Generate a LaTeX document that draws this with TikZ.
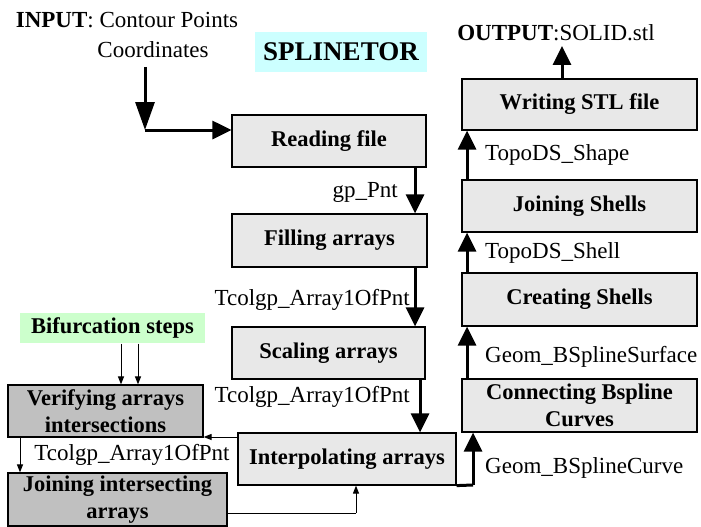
\documentclass[tikz,border=0pt]{standalone}
\usepackage{fontspec}
\setmainfont{Liberation Serif}
\usetikzlibrary{arrows.meta}
\definecolor{boxgray}{HTML}{E8E8E8}
\definecolor{darkgray}{HTML}{C0C0C0}
\definecolor{cyanbg}{HTML}{CCFFFF}
\definecolor{greenbg}{HTML}{CCFFCC}
\tikzset{
  procbox/.style={draw=black, line width=1.2pt, fill=boxgray, inner sep=0pt, align=center,
    font=\fontsize{22.5}{27}\selectfont\bfseries},
  darkbox/.style={procbox, fill=darkgray},
  lbl/.style={inner sep=0pt, font=\fontsize{23}{27}\selectfont},
  bigarrow/.style={line width=3pt, -{Triangle[width=18pt 0,length=19pt 0]}},
  longarrow/.style={line width=3pt, -{Triangle[width=19pt 0,length=28pt 0]}},
  thinarrow/.style={line width=1pt, -{Triangle[width=6pt 0,length=8pt 0]}},
  thinline/.style={line width=1pt},
  bigline/.style={line width=3pt},
}
\begin{document}
\begin{tikzpicture}[x=1pt,y=-1pt]
\useasboundingbox (0,0) rectangle (701,527);
% text nodes
\node[lbl] (in1) at (127,20) {\textbf{INPUT}: Contour Points};
\node[lbl] (in2) at (153,50) {Coordinates};
\node[lbl, fill=cyanbg, minimum width=172pt, minimum height=40pt, font=\fontsize{27}{30}\selectfont\bfseries] (title) at (341,52) {SPLINETOR};
\node[lbl] (out) at (556,33) {\textbf{OUTPUT}:SOLID.stl};
% process boxes
\node[procbox, minimum width=194pt, minimum height=52pt] (reading) at (329,141) {Reading file};
\node[procbox, minimum width=195pt, minimum height=53pt] (filling) at (329.5,240.5) {Filling arrays};
\node[procbox, minimum width=193pt, minimum height=52pt] (scaling) at (328.5,353) {Scaling arrays};
\node[procbox, minimum width=218pt, minimum height=52pt] (interp) at (347,459) {Interpolating arrays};
\node[darkbox, minimum width=195pt, minimum height=52pt] (verify) at (105.5,411) {Verifying arrays\\intersections};
\node[darkbox, minimum width=219pt, minimum height=53pt] (joinarr) at (117.5,499.5) {Joining intersecting\\arrays};
\node[procbox, draw=none, fill=greenbg, minimum width=185pt, minimum height=30pt] (bif) at (112.5,328) {Bifurcation steps};
\node[procbox, minimum width=235pt, minimum height=51pt] (writing) at (579.5,104.5) {Writing STL file};
\node[procbox, minimum width=235pt, minimum height=52pt] (joinshell) at (579.5,206) {Joining Shells};
\node[procbox, minimum width=235pt, minimum height=53pt] (creating) at (579.5,299.5) {Creating Shells};
\node[procbox, minimum width=235pt, minimum height=53pt] (connecting) at (579.5,405.5) {Connecting Bspline\\Curves};
% connector labels
\node[lbl, anchor=east] (l1) at (398,192) {gp\_Pnt};
\node[lbl, anchor=east] (l2) at (410,300) {Tcolgp\_Array1OfPnt};
\node[lbl, anchor=east] (l3) at (410,397) {Tcolgp\_Array1OfPnt};
\node[lbl] (l4) at (132,455) {Tcolgp\_Array1OfPnt};
\node[lbl, anchor=west] (l5) at (485,155) {TopoDS\_Shape};
\node[lbl, anchor=west] (l6) at (485,253) {TopoDS\_Shell};
\node[lbl, anchor=west] (l7) at (485,357) {Geom\_BSplineSurface};
\node[lbl, anchor=west] (l8) at (485,468) {Geom\_BSplineCurve};
% coordinates
\coordinate (inA) at (145,67);
\coordinate (inB) at (145,130);
\coordinate (xa) at (415,0);
\coordinate (xb) at (420,0);
\coordinate (xr) at (467,0);
\coordinate (outB) at (562,46);
\coordinate (cc1) at (473,485);
\coordinate (ja1) at (356,513);
\coordinate (vx) at (20,0);
\coordinate (b1) at (121,0);
\coordinate (b2) at (138,0);
\coordinate (iy) at (0,437);
% main flow
\draw[longarrow] (inA) -- (inB);
\draw[bigarrow] (inB) -- (reading.west |- inB);
\draw[bigarrow] (reading.south -| xa) -- (filling.north -| xa);
\draw[bigarrow] (filling.south -| xa) -- (scaling.north -| xa);
\draw[bigarrow] (scaling.south -| xb) -- (interp.north -| xb);
\draw[bigline] (interp.south east) -- (cc1);
\draw[bigarrow] (cc1) -- (connecting.south -| cc1);
\draw[bigarrow] (connecting.north -| xr) -- (creating.south -| xr);
\draw[bigarrow] (creating.north -| xr) -- (joinshell.south -| xr);
\draw[bigarrow] (joinshell.north -| xr) -- (writing.south -| xr);
\draw[bigarrow] (writing.north -| outB) -- (outB);
% bifurcation flow
\draw[thinarrow] (bif.south -| b1) -- (verify.north -| b1);
\draw[thinarrow] (bif.south -| b2) -- (verify.north -| b2);
\draw[thinarrow] (interp.west |- iy) -- (verify.east |- iy);
\draw[thinarrow] (verify.south -| vx) -- (joinarr.north -| vx);
\draw[thinline] (joinarr.east |- ja1) -- (ja1);
\draw[thinarrow] (ja1) -- (interp.south -| ja1);
\end{tikzpicture}
\end{document}
